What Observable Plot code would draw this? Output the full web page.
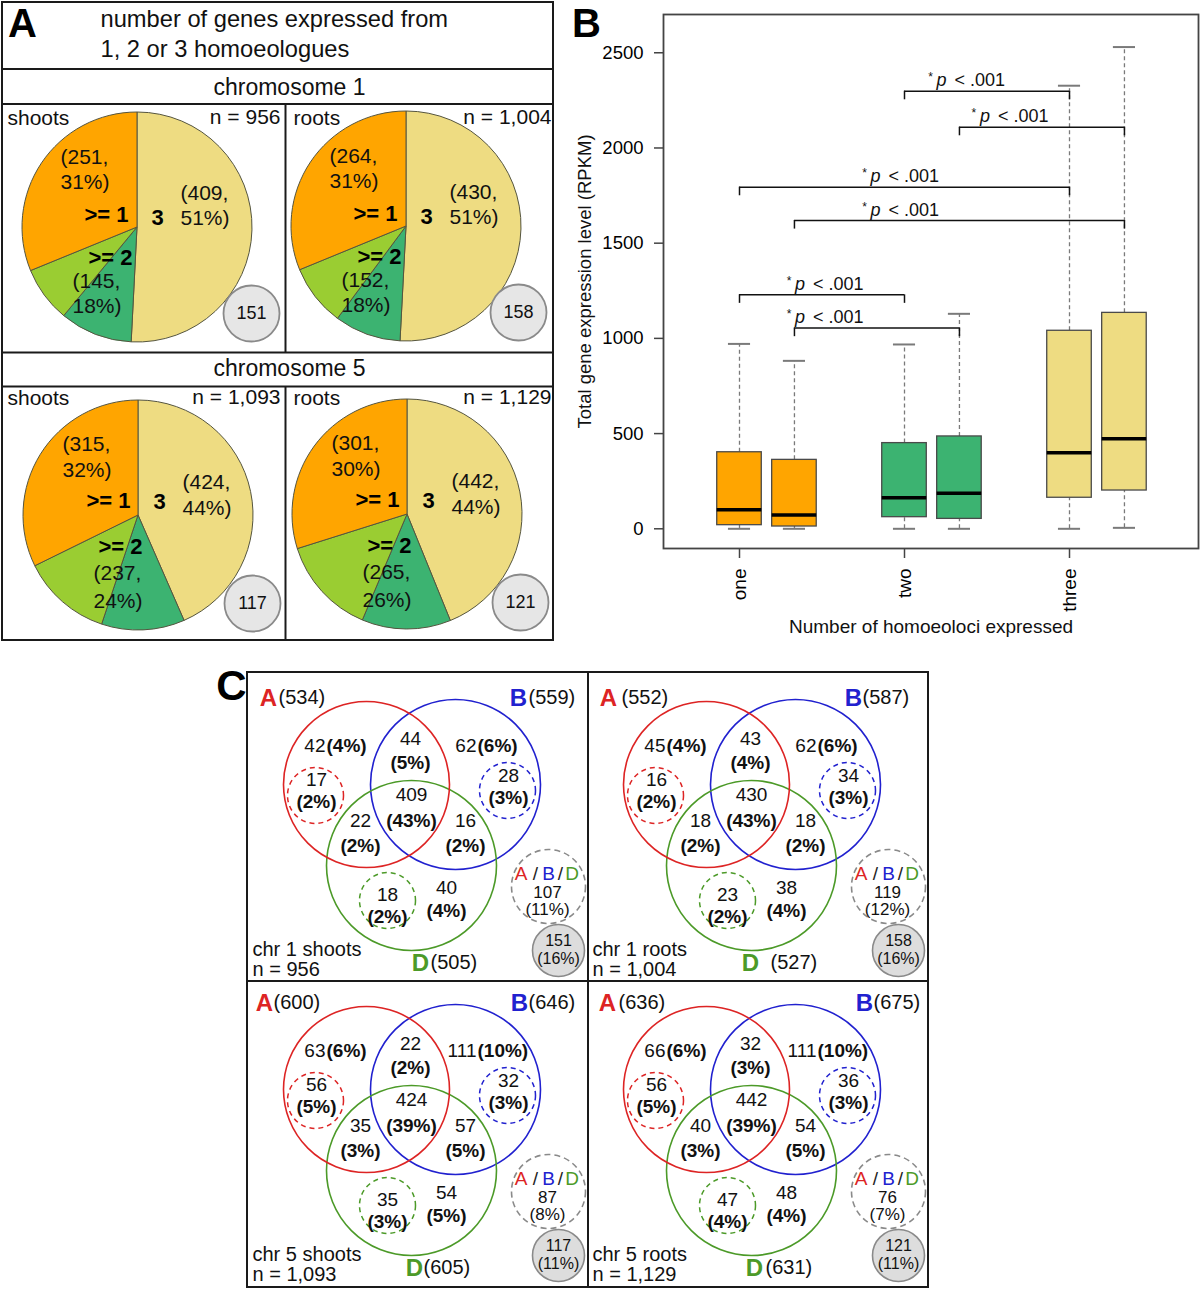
<!DOCTYPE html>
<html><head><meta charset="utf-8">
<script src="https://cdn.jsdelivr.net/npm/d3@7"></script>
<script src="https://cdn.jsdelivr.net/npm/@observablehq/plot@0.6"></script>
<style>
body{margin:0;background:#fff;}
#root{position:relative;width:1200px;height:1289px;overflow:hidden;background:#fff;}
</style></head><body><div id="root"></div>
<script>
// ================= DATA =================
// Panel A – pies (counts & printed percentages)
const pieTitle = ["shoots", "roots", "shoots", "roots"];
const pieN = ["956", "1,004", "1,093", "1,129"];
const pieThree = [409, 430, 424, 442];
const pieThreePct = [51, 51, 44, 44];
const pieTwo = [145, 152, 237, 265];
const pieTwoPct = [18, 18, 24, 26];
const pieTwoPairs = [82, 79, 114, 126];     // dark green part of ">= 2"
const pieTwoSingle = [63, 73, 123, 139];    // light green part of ">= 2"
const pieOne = [251, 264, 315, 301];
const pieOnePct = [31, 31, 32, 30];
const pieNone = [151, 158, 117, 121];
const pieChrom = ["chromosome 1", "chromosome 5"];
const headerLines = ["number of genes expressed from", "1, 2 or 3 homoeologues"];

// Panel B – box plot
const bGroups = ["one", "two", "three"];
const bBoxGroup = [1, 1, 2, 2, 3, 3];
const bLo = [0, 0, 0, 0, 0, 5];
const bQ1 = [19, 12, 61, 52, 163, 201];
const bMed = [100, 73, 163, 187, 399, 473];
const bQ3 = [402, 362, 450, 485, 1040, 1134];
const bHi = [971, 882, 968, 1129, 2327, 2530];
const bYTicks = [0, 500, 1000, 1500, 2000, 2500];
const bBracketFrom = [3, 4, 1, 2, 1, 2];
const bBracketTo = [5, 6, 5, 6, 3, 4];
const bBracketLevel = [2298, 2109, 1794, 1619, 1229, 1054];
const bBracketText = "< .001";
const bYLabel = "Total gene expression level (RPKM)";
const bXLabel = "Number of homoeoloci expressed";

// Panel C – Venn diagrams
const vennTitle = ["chr 1 shoots", "chr 1 roots", "chr 5 shoots", "chr 5 roots"];
const vennN = ["956", "1,004", "1,093", "1,129"];
const vennTotA = [534, 552, 600, 636];
const vennTotB = [559, 587, 646, 675];
const vennTotD = [505, 527, 605, 631];
const vennOnlyA = [42, 45, 63, 66], vennOnlyAPct = [4, 4, 6, 6];
const vennOnlyB = [62, 62, 111, 111], vennOnlyBPct = [6, 6, 10, 10];
const vennOnlyD = [40, 38, 54, 48], vennOnlyDPct = [4, 4, 5, 4];
const vennAB = [44, 43, 22, 32], vennABPct = [5, 4, 2, 3];
const vennAD = [22, 18, 35, 40], vennADPct = [2, 2, 3, 3];
const vennBD = [16, 18, 57, 54], vennBDPct = [2, 2, 5, 5];
const vennABD = [409, 430, 424, 442], vennABDPct = [43, 43, 39, 39];
const vennSoloA = [17, 16, 56, 56], vennSoloAPct = [2, 2, 5, 5];
const vennSoloB = [28, 34, 32, 36], vennSoloBPct = [3, 3, 3, 3];
const vennSoloD = [18, 23, 35, 47], vennSoloDPct = [2, 2, 3, 4];
const vennAmbig = [107, 119, 87, 76], vennAmbigPct = [11, 12, 8, 7];
const vennNone = [151, 158, 117, 121], vennNonePct = [16, 16, 11, 11];

// ================= STYLE / LAYOUT =================
const FONT = "'Liberation Sans', Arial, Helvetica, sans-serif";
const NARROW = "'Liberation Sans Narrow', 'Arial Narrow', 'Liberation Sans', Arial, sans-serif";
const root = document.getElementById("root");
function place(svg, left, top) {
  svg.style.position = "absolute";
  svg.style.left = left + "px";
  svg.style.top = top + "px";
  svg.style.background = "transparent";
  root.appendChild(svg);
}
const pieColors = ["#EEDC82", "#3CB371", "#9ACD32", "#FFA500"];
const groupColor = {1: "#FFA500", 2: "#3CB371", 3: "#EEDC82"};
const RED = "#DD2424", BLUE = "#2121CF", GREEN = "#4C9A28";

// ================= PANEL A =================
(function () {
  const W = 555, H = 645, PIE_R = 115;
  const pieCenter = [[137, 227], [406, 226], [138, 515], [407, 514]];
  const noneCenter = [[251, 313], [518, 312], [252, 603], [520, 602]];
  const titleY = [118, 118, 398, 398];
  const titleX = [7, 293, 7, 293];
  const nRight = [280, 551, 280, 551];
  const off = [
    {one: [-77, -70, -45], three: [43, -34, -9], two: [-65, 54, 79], ge1: [-9, -13], t3: [20, -10], ge2: [-27, 30]},
    {one: [-76, -71, -45], three: [44, -33, -7], two: [-45, 58, 86], ge1: [-8, -15], t3: [21, -14], ge2: [-18, 31]}
  ];
  const normalStart = [], boldEnd = [], boldMid = [], titles = [], nTxt = [], none = [];
  pieCenter.forEach(([cx, cy], i) => {
    const o = off[i < 2 ? 0 : 1];
    normalStart.push({x: cx + o.one[0], y: cy + o.one[1], t: `(${pieOne[i]},`});
    normalStart.push({x: cx + o.one[0], y: cy + o.one[2], t: `${pieOnePct[i]}%)`});
    normalStart.push({x: cx + o.three[0], y: cy + o.three[1], t: `(${pieThree[i]},`});
    normalStart.push({x: cx + o.three[0], y: cy + o.three[2], t: `${pieThreePct[i]}%)`});
    normalStart.push({x: cx + o.two[0], y: cy + o.two[1], t: `(${pieTwo[i]},`});
    normalStart.push({x: cx + o.two[0], y: cy + o.two[2], t: `${pieTwoPct[i]}%)`});
    boldEnd.push({x: cx + o.ge1[0], y: cy + o.ge1[1], t: ">= 1"});
    boldMid.push({x: cx + o.t3[0], y: cy + o.t3[1], t: "3"});
    boldMid.push({x: cx + o.ge2[0], y: cy + o.ge2[1], t: ">= 2"});
    titles.push({x: titleX[i], y: titleY[i], t: pieTitle[i]});
    nTxt.push({x: nRight[i], y: titleY[i] - 1, t: `n = ${pieN[i]}`});
    none.push({x: noneCenter[i][0], y: noneCenter[i][1], r: 28, t: `${pieNone[i]}`});
  });

  function pies(index, scales) {
    const sx = (scales && scales.x) || (v => v), sy = (scales && scales.y) || (v => v);
    const g = d3.create("svg:g");
    const arc = d3.arc().innerRadius(0).outerRadius(PIE_R);
    pieCenter.forEach(([cx, cy], i) => {
      const vals = [pieThree[i], pieTwoPairs[i], pieTwoSingle[i], pieOne[i]];
      const arcs = d3.pie().sort(null)(vals);
      g.append("g").attr("transform", `translate(${sx(cx)},${sy(cy)})`)
        .selectAll("path").data(arcs).join("path")
        .attr("d", arc).attr("fill", (d, j) => pieColors[j])
        .attr("stroke", "#55553f").attr("stroke-width", 1);
    });
    return g.node();
  }

  const svg = Plot.plot({
    width: W, height: H, margin: 0,
    x: {type: "linear", domain: [0, W], range: [0, W], axis: null},
    y: {type: "linear", domain: [0, H], range: [0, H], axis: null},
    r: {type: "identity"},
    style: {fontFamily: FONT, background: "transparent"},
    marks: [
      Plot.rect([0], {x1: 2, x2: 553, y1: 2, y2: 640, fill: "none", stroke: "#1a1a1a", strokeWidth: 2}),
      Plot.ruleY([68.5, 103.5, 352, 386], {y: d => d, x1: 2, x2: 553, stroke: "#1a1a1a", strokeWidth: 2}),
      Plot.ruleX([285], {x: d => d, y1: 103.5, y2: 352, stroke: "#1a1a1a", strokeWidth: 2}),
      Plot.ruleX([285], {x: d => d, y1: 386, y2: 640, stroke: "#1a1a1a", strokeWidth: 2}),
      pies,
      Plot.dot(none, {x: "x", y: "y", r: "r", fill: "#E6E6E6", stroke: "#8a8a8a", strokeWidth: 1.8}),
      Plot.text(none, {x: "x", y: "y", text: "t", fontSize: 18, fill: "#111"}),
      Plot.text(normalStart, {x: "x", y: "y", text: "t", fontSize: 21, textAnchor: "start", fill: "#111"}),
      Plot.text(boldEnd, {x: "x", y: "y", text: "t", fontSize: 22, fontWeight: "bold", textAnchor: "end", fill: "#000"}),
      Plot.text(boldMid, {x: "x", y: "y", text: "t", fontSize: 22, fontWeight: "bold", fill: "#000"}),
      Plot.text(titles, {x: "x", y: "y", text: "t", fontSize: 21, textAnchor: "start", fill: "#111"}),
      Plot.text(nTxt, {x: "x", y: "y", text: "t", fontSize: 21, textAnchor: "end", fill: "#111"}),
      Plot.text(pieChrom, {x: 289, y: (d, i) => [87, 368][i], text: d => d, fontSize: 23, fill: "#111"}),
      Plot.text(headerLines, {x: 100, y: (d, i) => [19, 49][i], text: d => d, fontSize: 23.7, textAnchor: "start", fill: "#111"}),
      Plot.text(["A"], {x: 22, y: 24, text: d => d, fontSize: 40, fontWeight: "bold", fill: "#000"})
    ]
  });
  place(svg, 0, 0);
})();

// ================= PANEL B =================
(function () {
  const W = 645, H = 645;
  const BOX_SHIFT = [0, 0.333], HALF = 0.135, CAP = 0.067, DROP = 45, TXT = 56;
  const LABEL_X = [2.382, 2.645, 1.982, 1.982, 1.524, 1.524];
  const boxes = bBoxGroup.map((g, i) => ({at: g + BOX_SHIFT[i % 2], g, lo: bLo[i], q1: bQ1[i], med: bMed[i], q3: bQ3[i], hi: bHi[i]}));
  const brackets = bBracketLevel.map((lvl, i) => ({
    x1: boxes[bBracketFrom[i] - 1].at, x2: boxes[bBracketTo[i] - 1].at, y: lvl, lx: LABEL_X[i]
  }));
  const svg = Plot.plot({
    width: W, height: H,
    marginLeft: 108, marginRight: 2, marginTop: 14, marginBottom: 97,
    x: {type: "linear", domain: [0.5394, 3.7818]},
    y: {type: "linear", domain: [-103.5, 2701]},
    color: {type: "identity"},
    style: {fontFamily: FONT, background: "transparent", color: "#000"},
    marks: [
      Plot.axisY({ticks: bYTicks, tickFormat: d => String(d), tickSize: 9, tickPadding: 11, fontSize: 18.5, label: null, stroke: "#444", strokeWidth: 1.5, fill: "#000"}),
      Plot.axisX({ticks: [1, 2, 3], tickFormat: d => bGroups[d - 1], tickSize: 10, tickPadding: 10, tickRotate: -90, fontSize: 19, label: null, stroke: "#444", strokeWidth: 1.5, fill: "#000"}),
      Plot.ruleX(boxes, {x: "at", y1: "lo", y2: "q1", stroke: "#7a7a7a", strokeWidth: 1.3, strokeDasharray: "4,3"}),
      Plot.ruleX(boxes, {x: "at", y1: "q3", y2: "hi", stroke: "#7a7a7a", strokeWidth: 1.3, strokeDasharray: "4,3"}),
      Plot.ruleY(boxes, {y: "lo", x1: d => d.at - CAP, x2: d => d.at + CAP, stroke: "#7a7a7a", strokeWidth: 2}),
      Plot.ruleY(boxes, {y: "hi", x1: d => d.at - CAP, x2: d => d.at + CAP, stroke: "#7a7a7a", strokeWidth: 2}),
      Plot.rect(boxes, {x1: d => d.at - HALF, x2: d => d.at + HALF, y1: "q1", y2: "q3", fill: d => groupColor[d.g], stroke: "#4a4a4a", strokeWidth: 1.3}),
      Plot.ruleY(boxes, {y: "med", x1: d => d.at - HALF, x2: d => d.at + HALF, stroke: "#000", strokeWidth: 3.5}),
      Plot.ruleY(brackets, {y: "y", x1: "x1", x2: "x2", stroke: "#111", strokeWidth: 1.5}),
      Plot.ruleX(brackets, {x: "x1", y1: d => d.y - DROP, y2: "y", stroke: "#111", strokeWidth: 1.5}),
      Plot.ruleX(brackets, {x: "x2", y1: d => d.y - DROP, y2: "y", stroke: "#111", strokeWidth: 1.5}),
      Plot.text(brackets, {x: "lx", y: d => d.y + TXT, text: () => "*", dx: -37, dy: -3, fontSize: 12, fill: "#111"}),
      Plot.text(brackets, {x: "lx", y: d => d.y + TXT, text: () => "p", dx: -26, fontSize: 18, fontStyle: "italic", fill: "#111"}),
      Plot.text(brackets, {x: "lx", y: d => d.y + TXT, text: () => bBracketText, dx: -13, textAnchor: "start", fontSize: 18, fill: "#111"}),
      Plot.frame({stroke: "#444", strokeWidth: 1.8}),
      Plot.text([bYLabel], {frameAnchor: "left", text: d => d, rotate: -90, dx: -78, textAnchor: "middle", lineAnchor: "middle", fontSize: 18.5, fill: "#111"}),
      Plot.text([bXLabel], {frameAnchor: "bottom", text: d => d, dy: 78, textAnchor: "middle", lineAnchor: "middle", fontSize: 19, fill: "#111"}),
      Plot.text(["B"], {frameAnchor: "top-left", text: d => d, dx: -77, dy: 10, fontSize: 40, fontWeight: "bold", textAnchor: "middle", lineAnchor: "middle", fill: "#000"})
    ]
  });
  place(svg, 555, 0);
})();

// ================= PANEL C =================
(function () {
  const W = 1200, TOP = 645, H = 644;
  const origin = [[248, 672], [588, 672], [248, 977], [588, 977]];
  const main = [["A", 118, 112, 83, RED], ["B", 207, 112, 85, BLUE], ["D", 163, 193, 85, GREEN]];
  const solo = [[67, 123, RED], [259, 118, BLUE], [139, 228, GREEN]];
  const ambigC = [300, 214, 37], noneC = [310, 278, 26];
  const two = {AB: [162, 66, 90], ABD: [163, 122, 148], AD: [112, 148, 173], BD: [217, 148, 173],
               sA: [68, 107, 129], sB: [260, 103, 125], sD: [139, 222, 244], oD: [198, 215, 238]};
  const inline = {oA: [77, 73], oB: [228, 73]};
  const labA = [[20, 30], [20, 33], [16, 25], [19, 30]];
  const labB = [[270, 280], [265, 274], [271, 280], [276, 285]];
  const labD = [[172, 182], [162, 182], [166, 175], [166, 177]];

  const circles = [], dashed = [], ambigCirc = [], noneCirc = [];
  const num = [], pct = [], inNum = [], inPct = [], small = [], letters = [], counts = [], titles = [];
  origin.forEach(([ox, oy], i) => {
    main.forEach(([k, x, y, r, c]) => circles.push({x: ox + x, y: oy + y, r, c}));
    solo.forEach(([x, y, c]) => dashed.push({x: ox + x, y: oy + y, r: 28, c}));
    ambigCirc.push({x: ox + ambigC[0], y: oy + ambigC[1], r: ambigC[2]});
    noneCirc.push({x: ox + noneC[0], y: oy + noneC[1], r: noneC[2]});
    const T = (key, n, p) => {
      const [x, y1, y2] = two[key];
      num.push({x: ox + x, y: oy + y1, t: `${n[i]}`});
      pct.push({x: ox + x, y: oy + y2, t: `(${p[i]}%)`});
    };
    T("AB", vennAB, vennABPct); T("ABD", vennABD, vennABDPct); T("AD", vennAD, vennADPct); T("BD", vennBD, vennBDPct);
    T("sA", vennSoloA, vennSoloAPct); T("sB", vennSoloB, vennSoloBPct); T("sD", vennSoloD, vennSoloDPct); T("oD", vennOnlyD, vennOnlyDPct);
    const I = (key, n, p) => {
      const [x, y] = inline[key];
      inNum.push({x: ox + x, y: oy + y, t: `${n[i]}`});
      inPct.push({x: ox + x + 1, y: oy + y, t: `(${p[i]}%)`});
    };
    I("oA", vennOnlyA, vennOnlyAPct); I("oB", vennOnlyB, vennOnlyBPct);
    // ambiguous (A/B/D) circle
    const ax = ox + ambigC[0], ay = oy + ambigC[1];
    [["A", -27.5, RED], ["/", -13, "#222"], ["B", 0, BLUE], ["/", 12, "#222"], ["D", 23.5, GREEN]]
      .forEach(([t, dx, c]) => letters.push({x: ax + dx, y: ay - 13, t, c}));
    small.push({x: ax - 1, y: ay + 6.5, t: `${vennAmbig[i]}`, s: 17});
    small.push({x: ax - 1, y: ay + 23, t: `(${vennAmbigPct[i]}%)`, s: 17});
    const nx = ox + noneC[0], ny = oy + noneC[1];
    small.push({x: nx, y: ny - 10, t: `${vennNone[i]}`, s: 16});
    small.push({x: nx, y: ny + 8, t: `(${vennNonePct[i]}%)`, s: 16});
    // set labels
    letters.push({x: ox + labA[i][0], y: oy + 26, t: "A", c: RED, b: true});
    letters.push({x: ox + labB[i][0], y: oy + 26, t: "B", c: BLUE, b: true});
    letters.push({x: ox + labD[i][0], y: oy + 291, t: "D", c: GREEN, b: true});
    counts.push({x: ox + labA[i][1], y: oy + 25, t: `(${vennTotA[i]})`});
    counts.push({x: ox + labB[i][1], y: oy + 25, t: `(${vennTotB[i]})`});
    counts.push({x: ox + labD[i][1], y: oy + 290, t: `(${vennTotD[i]})`});
    titles.push({x: ox + 4, y: oy + 277, t: vennTitle[i]});
    titles.push({x: ox + 4, y: oy + 297, t: `n = ${vennN[i]}`});
  });
  const smallLetters = letters.filter(d => !d.b), bigLetters = letters.filter(d => d.b);

  const svg = Plot.plot({
    width: W, height: H, margin: 0,
    x: {type: "linear", domain: [0, W], range: [0, W], axis: null},
    y: {type: "linear", domain: [TOP, TOP + H], range: [0, H], axis: null},
    r: {type: "identity"},
    color: {type: "identity"},
    style: {fontFamily: FONT, background: "transparent"},
    marks: [
      Plot.rect([0], {x1: 247, x2: 928, y1: 672, y2: 1287, fill: "none", stroke: "#1a1a1a", strokeWidth: 2}),
      Plot.ruleX([587.5], {x: d => d, y1: 672, y2: 1287, stroke: "#1a1a1a", strokeWidth: 2}),
      Plot.ruleY([980.5], {y: d => d, x1: 247, x2: 928, stroke: "#1a1a1a", strokeWidth: 2}),
      Plot.dot(noneCirc, {x: "x", y: "y", r: "r", fill: "#DDDDDD", stroke: "#8a8a8a", strokeWidth: 1.6}),
      Plot.dot(ambigCirc, {x: "x", y: "y", r: "r", fill: "none", stroke: "#8a8a8a", strokeWidth: 1.6, strokeDasharray: "6,4"}),
      Plot.dot(dashed, {x: "x", y: "y", r: "r", fill: "none", stroke: "c", strokeWidth: 1.5, strokeDasharray: "5,4"}),
      Plot.dot(circles, {x: "x", y: "y", r: "r", fill: "none", stroke: "c", strokeWidth: 1.6}),
      Plot.text(num, {x: "x", y: "y", text: "t", fontSize: 19, fill: "#111"}),
      Plot.text(pct, {x: "x", y: "y", text: "t", fontSize: 19, fontWeight: "bold", fill: "#111"}),
      Plot.text(inNum, {x: "x", y: "y", text: "t", fontSize: 19, textAnchor: "end", fill: "#111"}),
      Plot.text(inPct, {x: "x", y: "y", text: "t", fontSize: 19, fontWeight: "bold", textAnchor: "start", fill: "#111"}),
      Plot.text(small.filter(d => d.s === 17), {x: "x", y: "y", text: "t", fontSize: 17, fontFamily: NARROW, fill: "#111"}),
      Plot.text(small.filter(d => d.s === 16), {x: "x", y: "y", text: "t", fontSize: 16, fill: "#111"}),
      Plot.text(smallLetters, {x: "x", y: "y", text: "t", fill: "c", fontSize: 19}),
      Plot.text(bigLetters, {x: "x", y: "y", text: "t", fill: "c", fontSize: 24, fontWeight: "bold"}),
      Plot.text(counts, {x: "x", y: "y", text: "t", fontSize: 20, textAnchor: "start", fill: "#111"}),
      Plot.text(titles, {x: "x", y: "y", text: "t", fontSize: 20, textAnchor: "start", fill: "#111"}),
      Plot.text(["C"], {x: 231, y: 686, text: d => d, fontSize: 42, fontWeight: "bold", fill: "#000"})
    ]
  });
  place(svg, 0, TOP);
})();
</script></body></html>
